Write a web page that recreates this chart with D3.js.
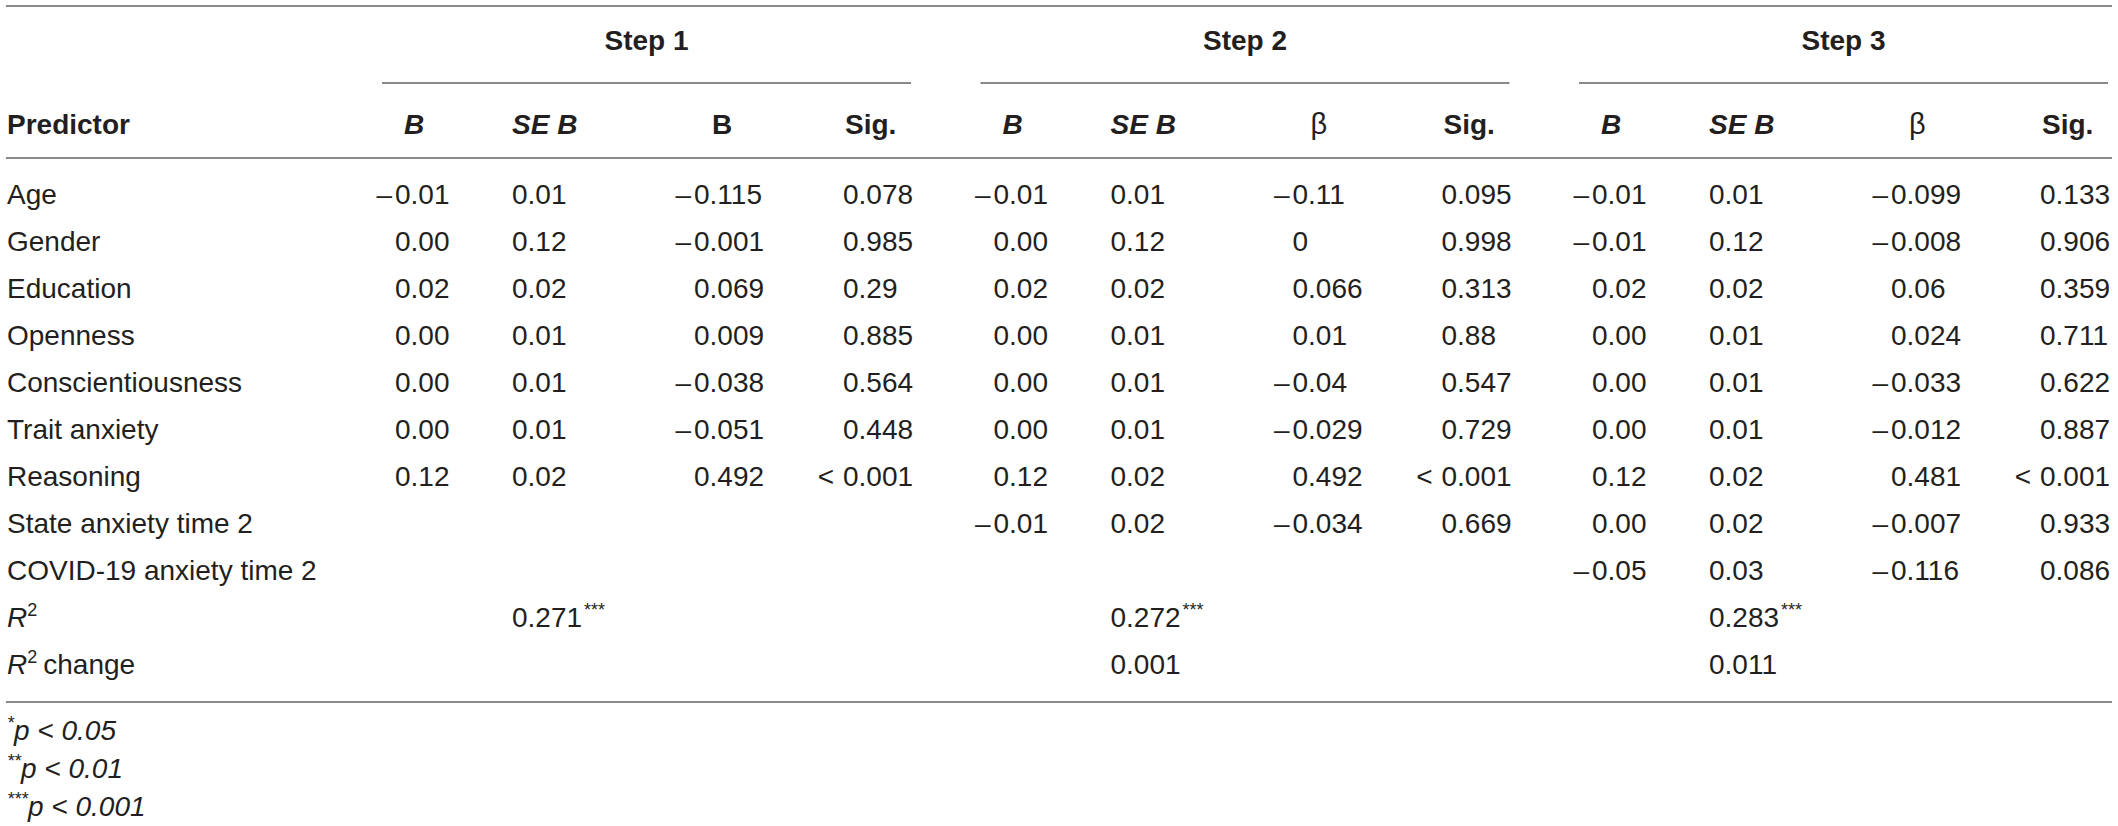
<!DOCTYPE html>
<html><head><meta charset="utf-8">
<script src="https://cdn.jsdelivr.net/npm/d3@7"></script>
<style>
html,body{margin:0;padding:0;background:#fff;}
svg{display:block;}
text{font-family:"Liberation Sans",Arial,Helvetica,sans-serif;fill:#231f20;}
</style></head>
<body>
<svg id="chart" width="2118" height="826"></svg>
<script>
// ---------- data ----------
const predictors = ["Age","Gender","Education","Openness","Conscientiousness","Trait anxiety","Reasoning","State anxiety time 2","COVID-19 anxiety time 2"];
const steps = ["Step 1","Step 2","Step 3"];
const colHeaders = [["B","SE B","B","Sig."],["B","SE B","β","Sig."],["B","SE B","β","Sig."]];

const step1B    = ["–0.01","0.00","0.02","0.00","0.00","0.00","0.12"];
const step1SE   = ["0.01","0.12","0.02","0.01","0.01","0.01","0.02"];
const step1Beta = ["–0.115","–0.001","0.069","0.009","–0.038","–0.051","0.492"];
const step1Sig  = ["0.078","0.985","0.29","0.885","0.564","0.448","< 0.001"];

const step2B    = ["–0.01","0.00","0.02","0.00","0.00","0.00","0.12","–0.01"];
const step2SE   = ["0.01","0.12","0.02","0.01","0.01","0.01","0.02","0.02"];
const step2Beta = ["–0.11","0","0.066","0.01","–0.04","–0.029","0.492","–0.034"];
const step2Sig  = ["0.095","0.998","0.313","0.88","0.547","0.729","< 0.001","0.669"];

const step3B    = ["–0.01","–0.01","0.02","0.00","0.00","0.00","0.12","0.00","–0.05"];
const step3SE   = ["0.01","0.12","0.02","0.01","0.01","0.01","0.02","0.02","0.03"];
const step3Beta = ["–0.099","–0.008","0.06","0.024","–0.033","–0.012","0.481","–0.007","–0.116"];
const step3Sig  = ["0.133","0.906","0.359","0.711","0.622","0.887","< 0.001","0.933","0.086"];

const rSquared  = ["0.271","0.272","0.283"];
const rSqStars  = ["***","***","***"];
const rSqChange = [null,"0.001","0.011"];
const footnotes = [["*","p < 0.05"],["**","p < 0.01"],["***","p < 0.001"]];

// ---------- layout ----------
const svg = d3.select("#chart");
const FS = 28;
const stepData = [
  {B:step1B, SE:step1SE, Beta:step1Beta, Sig:step1Sig},
  {B:step2B, SE:step2SE, Beta:step2Beta, Sig:step2Sig},
  {B:step3B, SE:step3SE, Beta:step3Beta, Sig:step3Sig}
];
const stepX = d3.scaleLinear().domain([0,2]).range([0,1197]);
const colOff = {B:395, SE:512, Beta:694, Sig:843};
const headOff = [404, 512, 712, 845];
const lineOff = [382, 911];
const rowY = d3.scaleLinear().domain([0,10]).range([204,674]);

const rule = "#8a8a8a";
function hline(x1,x2,y){
  svg.append("line").attr("x1",x1).attr("x2",x2).attr("y1",y).attr("y2",y)
    .attr("stroke",rule).attr("stroke-width",2);
}
hline(6,2112,6);
hline(6,2112,158);
hline(6,2112,702);

// step titles + underlines
steps.forEach((s,i)=>{
  const x1 = stepX(i)+lineOff[0], x2 = stepX(i)+lineOff[1];
  hline(x1,x2,83);
  svg.append("text").attr("x",(x1+x2)/2).attr("y",50).attr("text-anchor","middle")
    .attr("font-size",FS).attr("font-weight","bold").text(s);
});

// column headers
svg.append("text").attr("x",7).attr("y",134).attr("font-size",FS).attr("font-weight","bold").text("Predictor");
colHeaders.forEach((hs,i)=>{
  hs.forEach((h,j)=>{
    const t = svg.append("text").attr("x",stepX(i)+headOff[j]).attr("y",134).attr("font-size",FS).text(h);
    if(j<2){ t.attr("font-weight","bold").attr("font-style","italic"); }
    else if(h==="β"){ t.attr("font-family","'Liberation Serif','DejaVu Serif',serif").attr("font-size",FS+1); }
    else { t.attr("font-weight","bold"); }
  });
});

// predictor names
svg.selectAll("text.pred").data(predictors).join("text").attr("class","pred")
  .attr("x",7).attr("y",(d,i)=>rowY(i)).attr("font-size",FS).text(d=>d);

// value cells: prefix ("–" or "< ") hangs to the left of the anchor
function cell(x,y,str){
  let pre = "", rest = str;
  if(str.startsWith("–")){ pre="–"; rest=str.slice(1); }
  else if(str.startsWith("< ")){ pre="<"; rest=str.slice(2); }
  if(pre){
    svg.append("text").attr("x",x-(pre==="<"?9:3)).attr("y",y).attr("text-anchor","end")
      .attr("font-size",FS).text(pre);
  }
  svg.append("text").attr("x",x).attr("y",y).attr("font-size",FS).text(rest);
}
stepData.forEach((sd,i)=>{
  ["B","SE","Beta","Sig"].forEach(k=>{
    sd[k].forEach((v,r)=>cell(stepX(i)+colOff[k], rowY(r), v));
  });
});

// R squared rows
function rLabel(y, extra){
  const t = svg.append("text").attr("x",7).attr("y",y).attr("font-size",FS);
  t.append("tspan").attr("font-style","italic").text("R");
  t.append("tspan").attr("font-size",18).attr("dy",-11).text("2");
  if(extra) t.append("tspan").attr("dy",11).attr("dx",6).text(extra);
}
rLabel(rowY(9), null);
rLabel(rowY(10), "change");
rSquared.forEach((v,i)=>{
  const t = svg.append("text").attr("x",stepX(i)+colOff.SE).attr("y",rowY(9)).attr("font-size",FS);
  t.append("tspan").text(v);
  t.append("tspan").attr("font-size",18).attr("dy",-11).attr("dx",2).text(rSqStars[i]);
});
rSqChange.forEach((v,i)=>{
  if(v) svg.append("text").attr("x",stepX(i)+colOff.SE).attr("y",rowY(10)).attr("font-size",FS).text(v);
});

// footnotes
const footY = d3.scaleLinear().domain([0,2]).range([740,816]);
footnotes.forEach((f,i)=>{
  const t = svg.append("text").attr("x",7).attr("y",footY(i)).attr("font-size",FS).attr("font-style","italic");
  t.append("tspan").attr("font-size",18).attr("dy",-11).text(f[0]);
  t.append("tspan").attr("dy",11).text(f[1]);
});
</script>
</body></html>
